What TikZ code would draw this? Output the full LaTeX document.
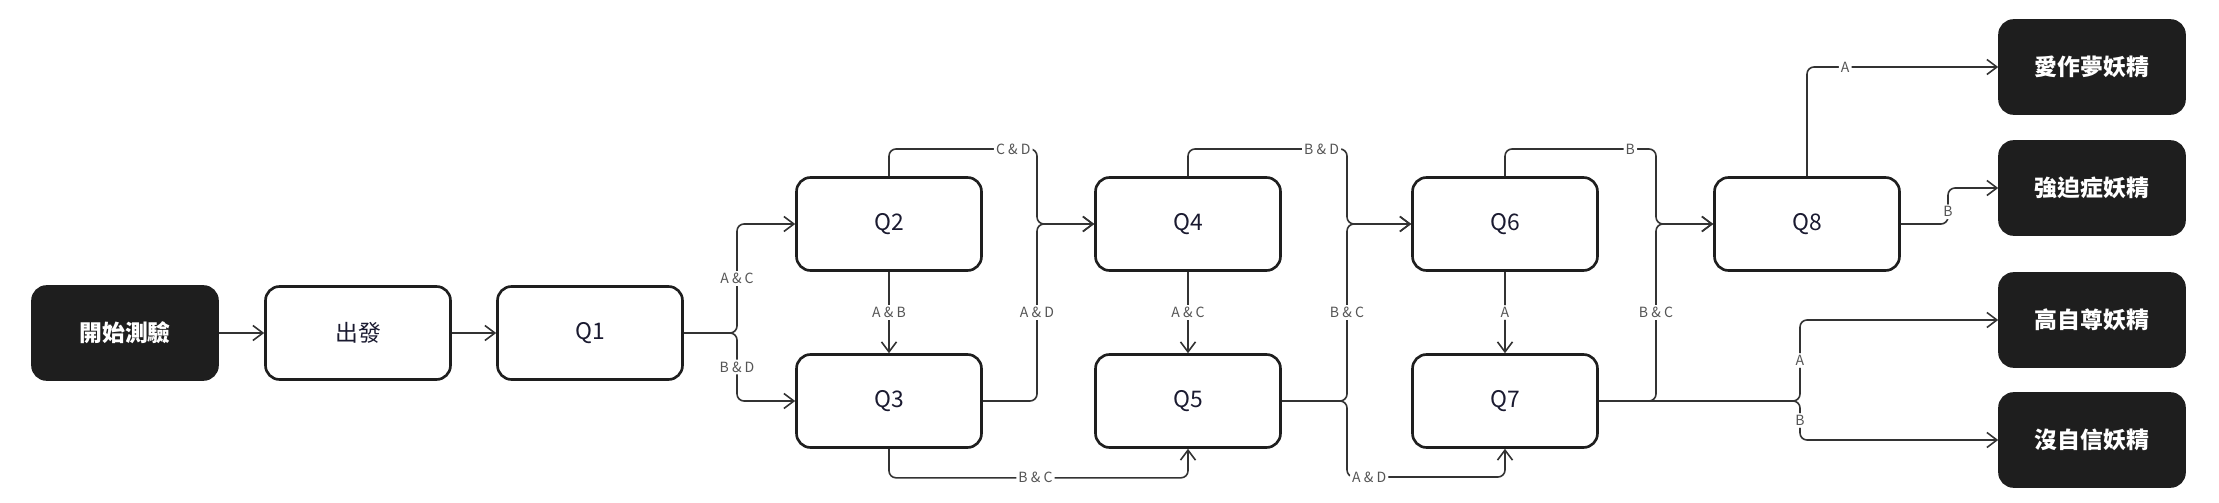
\documentclass[tikz,border=0pt]{standalone}
\usepackage{fontspec}
\setmainfont{Noto Sans CJK TC}
\usepackage{tikz}
\usetikzlibrary{arrows.meta, shapes, positioning}
\definecolor{boxblack}{HTML}{1E1E1E}
\definecolor{ink}{HTML}{1A1A30}
\definecolor{wire}{HTML}{333333}
\definecolor{lblgray}{HTML}{555555}

\begin{document}
\begin{tikzpicture}[x=0.02cm, y=-0.02cm, >={Straight Barb[length=0.2cm, width=0.3cm]}]
    	\tikzstyle{place}=[rectangle, rounded corners=0.28cm, draw=boxblack, line width=1.5pt, fill=white, minimum width=3.7cm, minimum height=1.86cm, inner sep=0pt, text=ink, font=\fontsize{13}{15}\selectfont]
    	\tikzstyle{result}=[place, fill=boxblack, text=white, font=\fontsize{13}{15}\selectfont\bfseries]
    	\tikzstyle{wire}=[draw=wire, line width=0.9pt, rounded corners=0.14cm]
    	\tikzstyle{lbl}=[fill=white, inner sep=1.2pt, text=lblgray, font=\fontsize{8}{9}\selectfont]
    	\useasboundingbox (0,0) rectangle (2219,503);
    	
    	% Start
    	\node at (125, 333) [result] (start) {開始測驗};
    	\node at (358, 333) [place] (go) {出發};
    	\node at (590, 333) [place] (q1) {Q1};
    	
    	% Questions
    	\foreach \i/\x/\y in {2/889/224, 3/889/401, 4/1188/224, 5/1188/401, 6/1505/224, 7/1505/401, 8/1807/224}
    		\node at (\x, \y) [place] (q\i) {Q\i};
    	
    	% Results
    	\foreach \n/\y/\t in {r1/67/愛作夢妖精, r2/188/強迫症妖精, r3/320/高自尊妖精, r4/440/沒自信妖精}
    		\node at (2092, \y) [result] (\n) {\t};
    	
    	% Start -> Q1
    	\draw [wire, ->] (start) to (go);
    	\draw [wire, ->] (go) to (q1);
    	
    	% Q1 -> Q2, Q3
    	\draw [wire, ->] (q1.east) -- (737, 333) |- node[lbl, pos=0.25] {A \& C} (q2.west);
    	\draw [wire, ->] (q1.east) -- (737, 333) |- node[lbl, pos=0.25] {B \& D} (q3.west);
    	
    	% Straight down
    	\foreach \a/\b/\t in {2/3/A \& B, 4/5/A \& C, 6/7/A}
    		\draw [wire, ->] (q\a) to node[lbl] {\t} (q\b);
    	
    	% Q2, Q3 -> Q4, Q5
    	\draw [wire, ->] (q2.north) |- node[lbl, pos=0.92] {C \& D} (1037, 149) |- (q4.west);
    	\draw [wire, ->] (q3.east) -- (1037, 401) |- node[lbl, pos=0.25] {A \& D} (q4.west);
    	\draw [wire, ->] (q3.south) -- ++(0, 29) -| node[lbl, pos=0.245] {B \& C} (q5.south);
    	
    	% Q4, Q5 -> Q6, Q7
    	\draw [wire, ->] (q4.north) |- node[lbl, pos=0.92] {B \& D} (1347, 149) |- (q6.west);
    	\draw [wire, ->] (q5.east) -- (1347, 401) |- node[lbl, pos=0.25] {B \& C} (q6.west);
    	\draw [wire, ->] (q5.east) -- (1347, 401) -- (1347, 477) -| node[lbl, pos=0.07] {A \& D} (q7.south);
    	
    	% Q6, Q7 -> Q8
    	\draw [wire, ->] (q6.north) |- node[lbl, pos=0.915] {B} (1656, 149) |- (q8.west);
    	\draw [wire, ->] (q7.east) -- (1656, 401) |- node[lbl, pos=0.25] {B \& C} (q8.west);
    	
    	% Results
    	\draw [wire, ->] (q8.north) |- node[lbl, pos=0.6] {A} (r1.west);
    	\draw [wire, ->] (q8.east) -- (1948, 224) |- node[lbl, pos=0.17] {B} (r2.west);
    	\draw [wire, ->] (q7.east) -- (1800, 401) |- node[lbl, pos=0.25] {A} (r3.west);
    	\draw [wire, ->] (q7.east) -- (1800, 401) |- node[lbl, pos=0.25] {B} (r4.west);
    \end{tikzpicture}
\end{document}
